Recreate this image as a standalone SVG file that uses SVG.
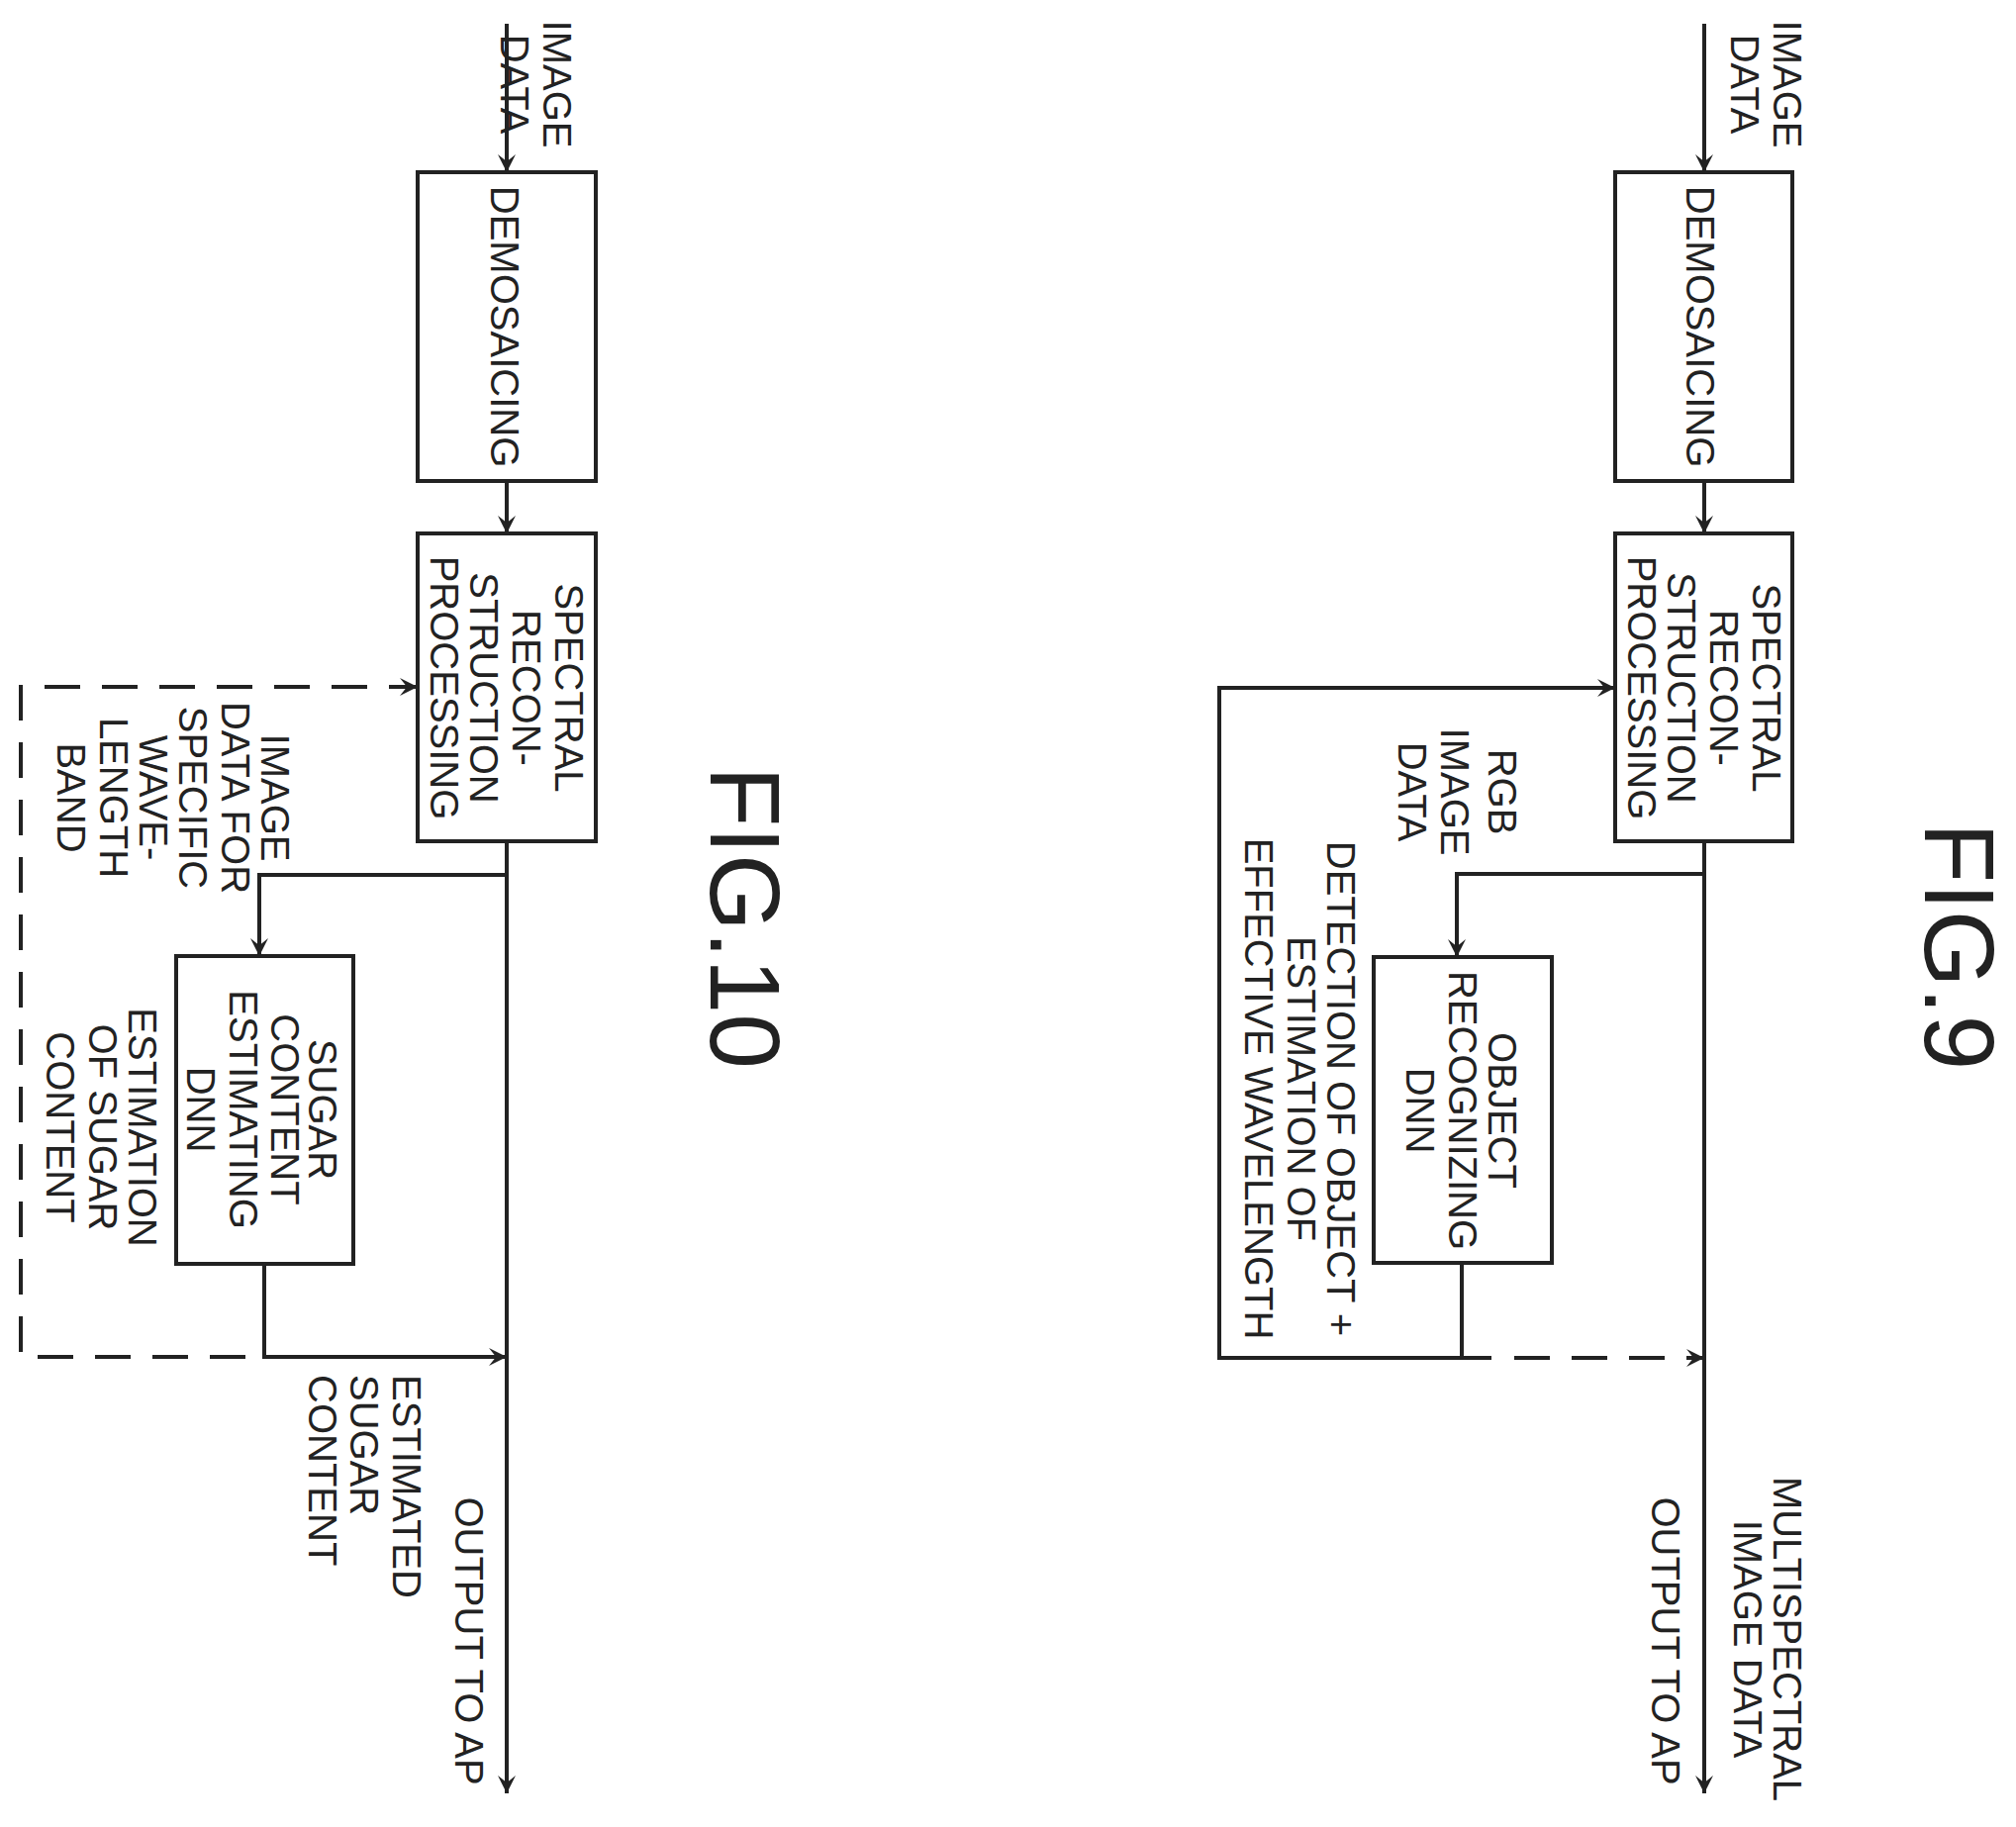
<svg xmlns="http://www.w3.org/2000/svg" width="2037" height="1846" viewBox="0 0 2037 1846">
<style>
.b{fill:none;stroke:#222;stroke-width:4}
.l{fill:none;stroke:#222;stroke-width:4}
.d{fill:none;stroke:#222;stroke-width:4;stroke-dasharray:36 22}
text{font-family:"Liberation Sans",Arial,sans-serif;font-size:40px;fill:#222;text-anchor:middle;dominant-baseline:central}
.s{text-anchor:start}
.f{font-size:100px}
</style>
<defs>
<marker id="a" viewBox="0 0 10 10" refX="10" refY="5" markerWidth="18" markerHeight="18" markerUnits="userSpaceOnUse" orient="auto">
<path d="M0,0 L10,5 L0,10 L4,5 Z" fill="#222"/>
</marker>
</defs>
<g id="connectors">
<line class="l" x1="1722" y1="24" x2="1722" y2="174" marker-end="url(#a)"/>
<line class="l" x1="1722" y1="486" x2="1722" y2="539" marker-end="url(#a)"/>
<line class="l" x1="1722" y1="850" x2="1722" y2="1812" marker-end="url(#a)"/>
<polyline class="l" points="1722,883 1472,883 1472,967" marker-end="url(#a)"/>
<line class="l" x1="1477" y1="1276" x2="1477" y2="1372"/>
<polyline class="l" points="1507,1372 1232,1372 1232,695 1632,695" marker-end="url(#a)"/>
<line class="d" x1="1530" y1="1372" x2="1722" y2="1372" marker-end="url(#a)"/>
<line class="l" x1="512" y1="24" x2="512" y2="174" marker-end="url(#a)"/>
<line class="l" x1="512" y1="486" x2="512" y2="539" marker-end="url(#a)"/>
<line class="l" x1="512" y1="850" x2="512" y2="1812" marker-end="url(#a)"/>
<polyline class="l" points="512,884 262,884 262,966" marker-end="url(#a)"/>
<polyline class="l" points="267,1277 267,1371 512,1371" marker-end="url(#a)"/>
<polyline class="d" points="248,1371 21,1371 21,694 422,694" marker-end="url(#a)"/>
</g>
<g id="fig9-labels">
<text transform="translate(1806,85) rotate(90)">IMAGE</text>
<text transform="translate(1763,85) rotate(90)">DATA</text>
<text transform="translate(1518,800) rotate(90)">RGB</text>
<text transform="translate(1470,800) rotate(90)">IMAGE</text>
<text transform="translate(1427,800) rotate(90)">DATA</text>
<text transform="translate(1355,1100) rotate(90)">DETECTION OF OBJECT +</text>
<text transform="translate(1315,1100) rotate(90)">ESTIMATION OF</text>
<text transform="translate(1272,1100) rotate(90)">EFFECTIVE WAVELENGTH</text>
<text transform="translate(1806,1656) rotate(90)">MULTISPECTRAL</text>
<text transform="translate(1766,1656) rotate(90)">IMAGE DATA</text>
<text transform="translate(1683,1658) rotate(90)">OUTPUT TO AP</text>
<text class="f" transform="translate(1980,956) rotate(90)">FIG.9</text>
</g>
<g id="fig9-demosaicing">
<rect class="b" x="1632" y="174" width="179" height="312"/>
<text transform="translate(1718,330) rotate(90)">DEMOSAICING</text>
</g>
<g id="fig9-spectral">
<rect class="b" x="1632" y="539" width="179" height="311"/>
<text transform="translate(1785,695) rotate(90)">SPECTRAL</text>
<text transform="translate(1742,695) rotate(90)">RECON-</text>
<text transform="translate(1699,695) rotate(90)">STRUCTION</text>
<text transform="translate(1659,695) rotate(90)">PROCESSING</text>
</g>
<g id="fig9-object">
<rect class="b" x="1388" y="967" width="180" height="309"/>
<text transform="translate(1518,1122) rotate(90)">OBJECT</text>
<text transform="translate(1478,1122) rotate(90)">RECOGNIZING</text>
<text transform="translate(1435,1122) rotate(90)">DNN</text>
</g>
<g id="fig10-labels">
<text transform="translate(563,85) rotate(90)">IMAGE</text>
<text transform="translate(520,85) rotate(90)">DATA</text>
<text transform="translate(278,806) rotate(90)">IMAGE</text>
<text transform="translate(238,806) rotate(90)">DATA FOR</text>
<text transform="translate(195,806) rotate(90)">SPECIFIC</text>
<text transform="translate(155,806) rotate(90)">WAVE-</text>
<text transform="translate(115,806) rotate(90)">LENGTH</text>
<text transform="translate(72,806) rotate(90)">BAND</text>
<text transform="translate(144,1139) rotate(90)">ESTIMATION</text>
<text transform="translate(104,1139) rotate(90)">OF SUGAR</text>
<text transform="translate(61,1139) rotate(90)">CONTENT</text>
<text class="s" transform="translate(411,1389) rotate(90)">ESTIMATED</text>
<text class="s" transform="translate(368,1389) rotate(90)">SUGAR</text>
<text class="s" transform="translate(326,1389) rotate(90)">CONTENT</text>
<text transform="translate(474,1658) rotate(90)">OUTPUT TO AP</text>
<text class="f" transform="translate(753,927) rotate(90)">FIG.10</text>
</g>
<g id="fig10-demosaicing">
<rect class="b" x="422" y="174" width="180" height="312"/>
<text transform="translate(510,330) rotate(90)">DEMOSAICING</text>
</g>
<g id="fig10-spectral">
<rect class="b" x="422" y="539" width="180" height="311"/>
<text transform="translate(575,695) rotate(90)">SPECTRAL</text>
<text transform="translate(532,695) rotate(90)">RECON-</text>
<text transform="translate(489,695) rotate(90)">STRUCTION</text>
<text transform="translate(449,695) rotate(90)">PROCESSING</text>
</g>
<g id="fig10-sugar">
<rect class="b" x="178" y="966" width="179" height="311"/>
<text transform="translate(326,1121) rotate(90)">SUGAR</text>
<text transform="translate(288,1121) rotate(90)">CONTENT</text>
<text transform="translate(246,1121) rotate(90)">ESTIMATING</text>
<text transform="translate(203,1121) rotate(90)">DNN</text>
</g>
</svg>
